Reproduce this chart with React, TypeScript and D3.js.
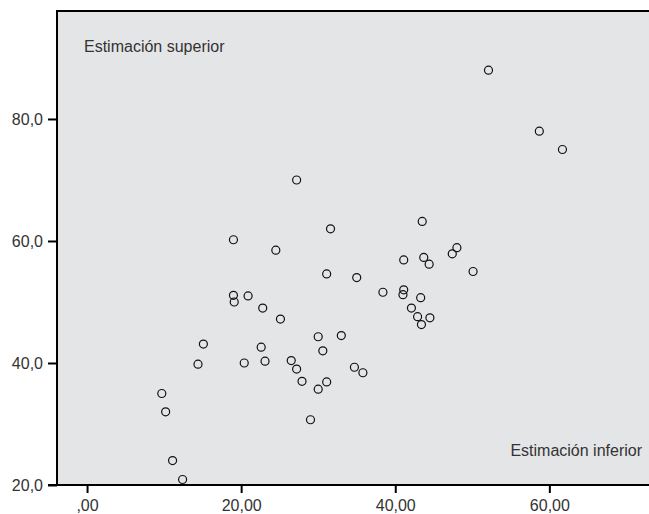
import React, { useEffect, useRef } from "react";
import * as d3 from "d3";

// estimated values (lower estimate, upper estimate)
const inferior = [
  19.0, 24.5, 19.0, 19.1, 20.9, 22.8, 25.1, 15.1, 22.6, 14.4,
  20.4, 23.1, 9.7, 10.2, 11.1, 12.4, 27.2, 31.6, 43.5, 41.1,
  43.7, 44.4, 48.0, 47.4, 50.1, 31.1, 35.0, 38.4, 41.1, 41.0,
  43.3, 42.1, 42.9, 44.5, 43.4, 30.0, 33.0, 30.6, 26.5, 27.2,
  27.9, 30.0, 31.1, 34.7, 35.8, 29.0, 52.1, 58.7, 61.7,
];
const superior = [
  60.2, 58.5, 51.1, 50.0, 51.0, 49.0, 47.2, 43.1, 42.6, 39.8,
  40.0, 40.3, 35.0, 32.0, 24.0, 20.9, 70.0, 62.0, 63.2, 56.9,
  57.3, 56.2, 58.9, 57.9, 55.0, 54.6, 54.0, 51.6, 52.0, 51.2,
  50.7, 49.0, 47.6, 47.4, 46.3, 44.3, 44.5, 42.0, 40.4, 39.0,
  37.0, 35.7, 36.9, 39.3, 38.4, 30.7, 88.0, 78.0, 75.0,
];
const xTicks = [0, 20, 40, 60];
const yTicks = [20, 40, 60, 80];

const App = () => {
  const ref = useRef<SVGSVGElement>(null);

  useEffect(() => {
    const width = 649;
    const height = 514;
    const left = 57;
    const top = 11;
    const bottom = 485;

    const svg = d3.select(ref.current);
    svg.selectAll("*").remove();

    const x = d3.scaleLinear().domain([-3.9, 74]).range([left, left + 77.9 * 7.705]);
    const y = d3.scaleLinear().domain([20, 97.7]).range([bottom, top]);

    const font = "'Liberation Sans', Arial, sans-serif";

    // plot background
    svg.append("rect")
      .attr("x", left)
      .attr("y", top)
      .attr("width", width - left + 10)
      .attr("height", bottom - top)
      .attr("fill", "#e4e5e7");

    // points
    svg.append("g")
      .selectAll("circle")
      .data(inferior.map((d, i) => [d, superior[i]]))
      .join("circle")
      .attr("cx", (d) => x(d[0]))
      .attr("cy", (d) => y(d[1]))
      .attr("r", 4)
      .attr("fill", "none")
      .attr("stroke", "#111")
      .attr("stroke-width", 1.2);

    const fmtX = (v: number) => (v === 0 ? ",00" : d3.format(".2f")(v).replace(".", ","));
    const fmtY = (v: number) => d3.format(".1f")(v).replace(".", ",");

    // axes
    const xAxis = svg.append("g")
      .attr("transform", `translate(0,${bottom})`)
      .call(d3.axisBottom(x).tickValues(xTicks).tickFormat(fmtX as any).tickSize(8).tickPadding(7));
    const yAxis = svg.append("g")
      .attr("transform", `translate(${left},0)`)
      .call(d3.axisLeft(y).tickValues(yTicks).tickFormat(fmtY as any).tickSize(9).tickPadding(5));

    [xAxis, yAxis].forEach((g) => {
      g.select(".domain").remove();
      g.selectAll("line").attr("stroke", "#000").attr("stroke-width", 2);
      g.selectAll("text")
        .attr("font-family", font)
        .attr("font-size", 16)
        .attr("fill", "#333");
    });

    // frame lines
    svg.append("line")
      .attr("x1", left).attr("x2", width + 5)
      .attr("y1", top).attr("y2", top)
      .attr("stroke", "#000").attr("stroke-width", 2);
    svg.append("line")
      .attr("x1", left).attr("x2", left)
      .attr("y1", top - 1).attr("y2", bottom + 1)
      .attr("stroke", "#000").attr("stroke-width", 2);
    svg.append("line")
      .attr("x1", left - 9).attr("x2", width + 5)
      .attr("y1", bottom).attr("y2", bottom)
      .attr("stroke", "#000").attr("stroke-width", 2);

    // labels inside the plot
    svg.append("text")
      .attr("x", 84)
      .attr("y", 52)
      .attr("font-family", font)
      .attr("font-size", 16)
      .attr("fill", "#333")
      .text("Estimación superior");
    svg.append("text")
      .attr("x", 642)
      .attr("y", 456)
      .attr("text-anchor", "end")
      .attr("font-family", font)
      .attr("font-size", 16)
      .attr("fill", "#333")
      .text("Estimación inferior");
  }, []);

  return (
    <svg
      ref={ref}
      width={649}
      height={514}
      style={{ position: "absolute", left: 0, top: 0, background: "#fff" }}
    />
  );
};

export default App;
